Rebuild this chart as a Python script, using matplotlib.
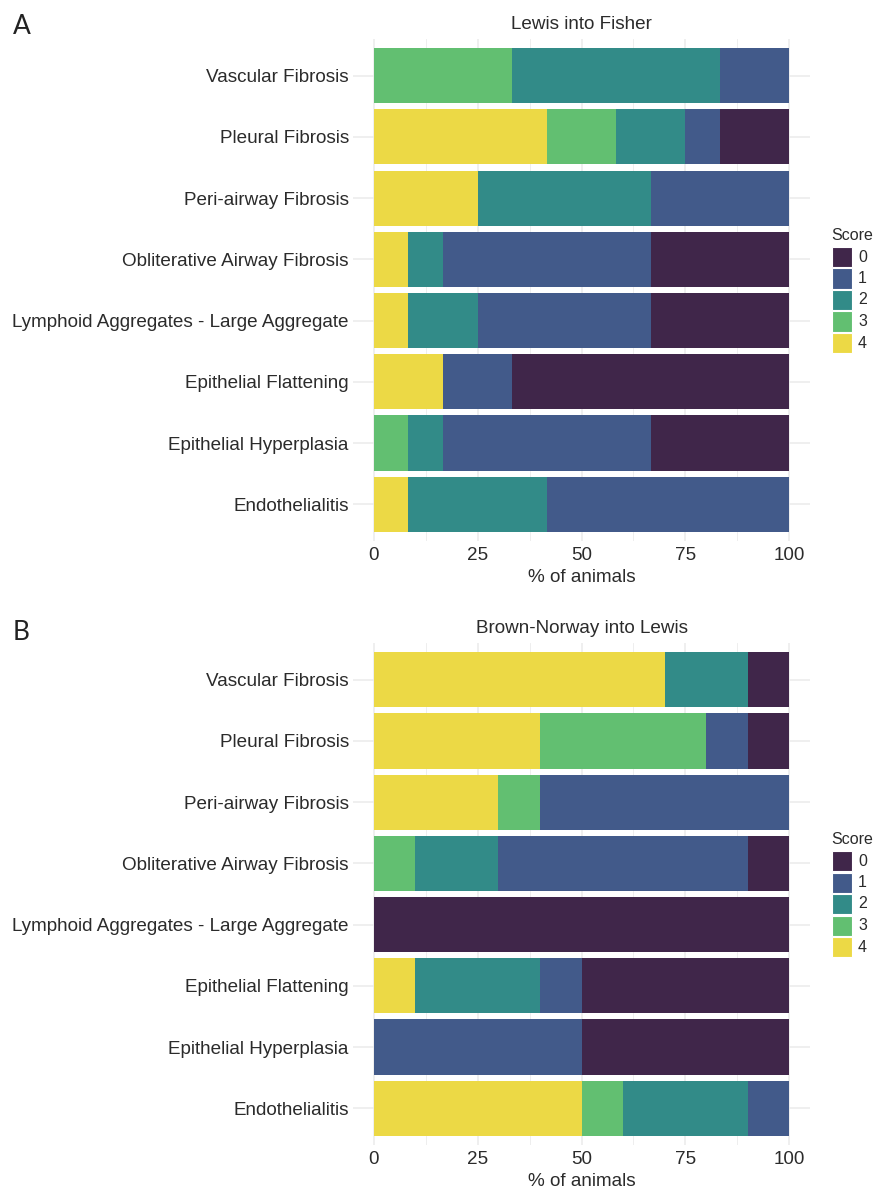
import matplotlib.pyplot as plt
from matplotlib.patches import Rectangle

plt.rcParams['font.family'] = ['Liberation Sans', 'DejaVu Sans']

# categories, top to bottom as shown
categories = ['Vascular Fibrosis', 'Pleural Fibrosis', 'Peri-airway Fibrosis',
              'Obliterative Airway Fibrosis', 'Lymphoid Aggregates - Large Aggregate',
              'Epithelial Flattening', 'Epithelial Hyperplasia', 'Endothelialitis']

scores = ['4', '3', '2', '1', '0']  # stacking order, left to right
score_colors = {'0': '#40264A', '1': '#425A8A', '2': '#328B88',
                '3': '#62BF71', '4': '#ECD945'}

# panel A: Lewis into Fisher (% of animals per score)
a_score4 = [0, 41.67, 25.0, 8.33, 8.33, 16.67, 0, 8.33]
a_score3 = [33.33, 16.67, 0, 0, 0, 0, 8.33, 0]
a_score2 = [50.0, 16.67, 41.67, 8.33, 16.67, 0, 8.33, 33.33]
a_score1 = [16.67, 8.33, 33.33, 50.0, 41.67, 16.67, 50.0, 58.33]
a_score0 = [0, 16.67, 0, 33.33, 33.33, 66.67, 33.33, 0]

# panel B: Brown-Norway into Lewis
b_score4 = [70, 40, 30, 0, 0, 10, 0, 50]
b_score3 = [0, 40, 10, 10, 0, 0, 0, 10]
b_score2 = [20, 0, 0, 20, 0, 30, 0, 30]
b_score1 = [0, 10, 60, 60, 0, 10, 50, 10]
b_score0 = [10, 10, 0, 10, 100, 50, 50, 0]

panels = [
    ('A', 'Lewis into Fisher', [a_score4, a_score3, a_score2, a_score1, a_score0]),
    ('B', 'Brown-Norway into Lewis', [b_score4, b_score3, b_score2, b_score1, b_score0]),
]

W, H = 874, 1190
fig = plt.figure(figsize=(W / 100, H / 100), dpi=100)

# panel boxes in pixels (left, top, right, bottom)
boxes = [(353, 39, 810, 541), (353, 643, 810, 1145)]
letter_y = [27, 632]
text_col = '#2b2b2b'
grid_col = '#EBEBEB'
fs = 13.6

for (letter, title, series), (l, t, r, b), ly in zip(panels, boxes, letter_y):
    ax = fig.add_axes([l / W, 1 - b / H, (r - l) / W, (b - t) / H])
    ypos = list(range(len(categories)))[::-1]
    left = [0] * len(categories)
    for sc, vals in zip(scores, series):
        ax.barh(ypos, vals, left=left, height=0.9, color=score_colors[sc],
                linewidth=0, zorder=2)
        left = [a + v for a, v in zip(left, vals)]
    ax.set_xlim(-5, 105)
    ax.set_ylim(-0.6, len(categories) - 0.4)
    ax.set_yticks(ypos)
    ax.set_yticklabels(categories)
    ax.set_xticks([0, 25, 50, 75, 100])
    ax.set_xticks([12.5, 37.5, 62.5, 87.5], minor=True)
    ax.grid(True, which='major', color=grid_col, linewidth=1.1, zorder=0)
    ax.grid(True, which='minor', axis='x', color=grid_col, linewidth=0.6, zorder=0)
    ax.set_axisbelow(True)
    ax.tick_params(which='both', length=0, labelsize=fs, labelcolor=text_col)
    ax.tick_params(axis='y', pad=3)
    ax.tick_params(axis='x', pad=4)
    for s in ax.spines.values():
        s.set_visible(False)
    ax.set_title(title, fontsize=fs, color=text_col, pad=7)
    ax.set_xlabel('% of animals', fontsize=fs, color=text_col, labelpad=4)
    fig.text(13 / W, 1 - ly / H, letter, fontsize=19, color='#222222',
             va='center', ha='left', family=['Lato', 'DejaVu Sans'])

    # legend
    mid = (t + b) / 2
    fig.text(831 / W, 1 - (mid - 55) / H, 'Score', fontsize=11.5,
             color=text_col, va='center', ha='left')
    for i, sc in enumerate(['0', '1', '2', '3', '4']):
        cy = mid - 33 + i * 21.5
        fig.add_artist(Rectangle((832 / W, 1 - (cy + 10) / H), 20 / W, 20 / H,
                                 transform=fig.transFigure,
                                 facecolor=score_colors[sc], edgecolor='white',
                                 linewidth=0.8))
        fig.text(858 / W, 1 - cy / H, sc, fontsize=11.5, color=text_col,
                 va='center', ha='left')

fig.savefig('out.png', dpi=100)
